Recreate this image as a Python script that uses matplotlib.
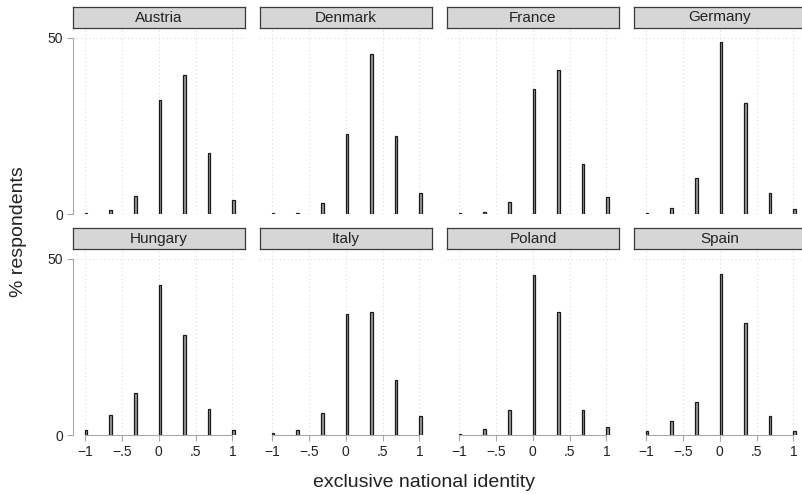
import numpy as np
import matplotlib.pyplot as plt

plt.rcParams['font.family'] = ['Liberation Sans', 'DejaVu Sans']

countries = ['Austria', 'Denmark', 'France', 'Germany',
             'Hungary', 'Italy', 'Poland', 'Spain']
levels = [-1, -2/3, -1/3, 0, 1/3, 2/3, 1]

austria = [0.2, 1.0, 5.0, 32.5, 39.5, 17.3, 4.1]
denmark = [0.2, 0.4, 3.0, 22.7, 45.5, 22.2, 6.0]
france = [0.2, 0.5, 3.4, 35.5, 40.8, 14.3, 4.7]
germany = [0.3, 1.7, 10.3, 48.7, 31.5, 6.1, 1.5]
hungary = [1.4, 5.6, 11.9, 42.7, 28.5, 7.3, 1.4]
italy = [0.5, 1.3, 6.3, 34.4, 35.0, 15.5, 5.3]
poland = [0.3, 1.6, 7.0, 45.4, 35.0, 7.0, 2.3]
spain = [1.1, 3.9, 9.5, 45.7, 31.8, 5.4, 1.0]
series = [austria, denmark, france, germany, hungary, italy, poland, spain]

xticks = [-1, -0.5, 0, 0.5, 1]
xticklabels = ['\u22121', '\u2212.5', '0', '.5', '1']

W, H = 802, 494
fig = plt.figure(figsize=(W / 100, H / 100), dpi=100)

lefts = [73, 260, 447, 634]
tops = [28, 249]     # top of plot area (px)
ph = 186             # plot area height (px)
pw = 172
sh = 21              # strip height

grid_c = '#d2d2d2'
axis_c = '#a8a8a8'

for i, (name, vals) in enumerate(zip(countries, series)):
    r, c = divmod(i, 4)
    x0, y0 = lefts[c], tops[r]
    ax = fig.add_axes([x0 / W, 1 - (y0 + ph) / H, pw / W, ph / H])
    ax.set_xlim(-1.16, 1.17)
    ax.set_ylim(0, 52.8)
    for xv in xticks:
        ax.axvline(xv, color=grid_c, lw=0.7, ls=(0, (1, 3)), zorder=0)
    for yv in [0, 50]:
        ax.axhline(yv, color=grid_c, lw=0.7, ls=(0, (1, 3)), zorder=0)
    ax.bar(levels, vals, width=0.035, align='edge', color='#9a9a9a',
           edgecolor='#1a1a1a', lw=0.9, zorder=2)
    for s in ax.spines.values():
        s.set_visible(False)
    ax.tick_params(colors=axis_c, labelcolor='#222222', labelsize=10,
                   length=4, width=0.8, pad=3)
    if c == 0:
        ax.spines['left'].set_visible(True)
        ax.spines['left'].set_color(axis_c)
        ax.spines['left'].set_bounds(0, 50)
        ax.set_yticks([0, 50])
        ax.set_yticklabels(['0', '50'])
    else:
        ax.set_yticks([])
    if r == 1:
        ax.spines['bottom'].set_visible(True)
        ax.spines['bottom'].set_color(axis_c)
        ax.spines['bottom'].set_bounds(-1, 1)
        ax.set_xticks(xticks)
        ax.set_xticklabels(xticklabels)
    else:
        ax.set_xticks([])
    ax.patch.set_alpha(0)

    # strip header
    sax = fig.add_axes([x0 / W, 1 - y0 / H, pw / W, sh / H])
    sax.set_xticks([])
    sax.set_yticks([])
    sax.set_facecolor('#d6d6d6')
    for s in sax.spines.values():
        s.set_color('#3a3a3a')
        s.set_linewidth(0.9)
    sax.text(0.5, 0.5, name, ha='center', va='center', fontsize=11,
             color='#222222', transform=sax.transAxes)

fig.text(19 / W, 1 - 232 / H, '% respondents', rotation=90,
         ha='center', va='center', fontsize=14, color='#222222')
fig.text(424 / W, 1 - 482 / H, 'exclusive national identity',
         ha='center', va='center', fontsize=14, color='#222222')

fig.savefig('out.png', dpi=100)
